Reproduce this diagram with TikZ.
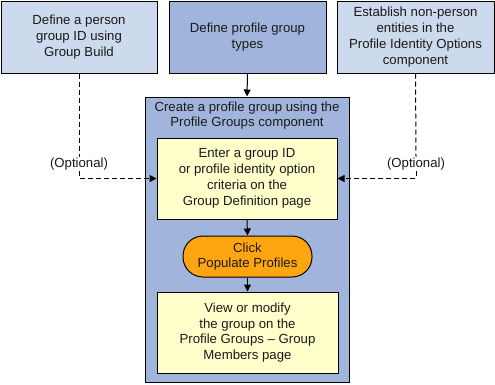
\documentclass[tikz,border=0pt]{standalone}
\usepackage{fontspec}
\setmainfont{Liberation Sans}
\usetikzlibrary{arrows.meta}
\definecolor{lightblue}{HTML}{CDD9ED}
\definecolor{midblue}{HTML}{A1B5DC}
\definecolor{paleyellow}{HTML}{FFFFCC}
\definecolor{pillorange}{HTML}{FFA510}
\definecolor{txt}{HTML}{1A1A1A}
\tikzset{
  every node/.style={font=\fontsize{13.2pt}{15.8pt}\selectfont, text=txt},
  box/.style={draw=black, line width=1pt, align=center, inner sep=0pt},
  arr/.style={-{Triangle[length=7pt,width=7pt]}, line width=1pt},
  darr/.style={arr, dash pattern=on 5pt off 3pt},
}
\begin{document}
\begin{tikzpicture}[x=1pt,y=-1pt]
\useasboundingbox (0,0) rectangle (495,384);
\node[box, fill=lightblue, minimum width=156pt, minimum height=72pt] (L) at (79,37) {Define a person\\group ID using\\Group Build};
\node[box, fill=midblue, minimum width=157pt, minimum height=72pt] (M) at (247.5,37) {Define profile group\\types};
\node[box, fill=lightblue, minimum width=157pt, minimum height=72pt] (R) at (415.5,37) {Establish non-person\\entities in the\\Profile Identity Options\\component};
\node[box, fill=midblue, minimum width=204pt, minimum height=285pt] (C) at (247,239.5) {};
\node[align=center, inner sep=0pt] (CT) at (247,115.5) {Create a profile group using the\\Profile Groups component};
\node[box, fill=paleyellow, minimum width=180pt, minimum height=81pt] (Y1) at (247,178.5) {Enter a group ID\\or profile identity option\\criteria on the\\Group Definition page};
\node[box, fill=pillorange, minimum width=129pt, minimum height=41pt, rounded corners=20pt] (P) at (247.5,256.5) {Click\\Populate Profiles};
\node[box, fill=paleyellow, minimum width=181pt, minimum height=81pt] (Y2) at (247.5,332.5) {View or modify\\the group on the\\Profile Groups -- Group\\Members page};
\node[fill=white, inner sep=1pt] (OL) at (79,164) {(Optional)};
\node[fill=white, inner sep=1pt] (OR) at (416,164) {(Optional)};
\draw[arr] (M.south) -- (C.north);
\draw[arr] (Y1.south) -- (P.north);
\draw[arr] (P.south) -- (Y2.north);
\draw[line width=1pt, dash pattern=on 5pt off 3pt] (L.south) -- (OL.north);
\draw[darr] (OL.south) |- (Y1.west);
\draw[line width=1pt, dash pattern=on 5pt off 3pt] (R.south) -- (OR.north);
\draw[darr] (OR.south) |- (Y1.east);
\end{tikzpicture}
\end{document}
